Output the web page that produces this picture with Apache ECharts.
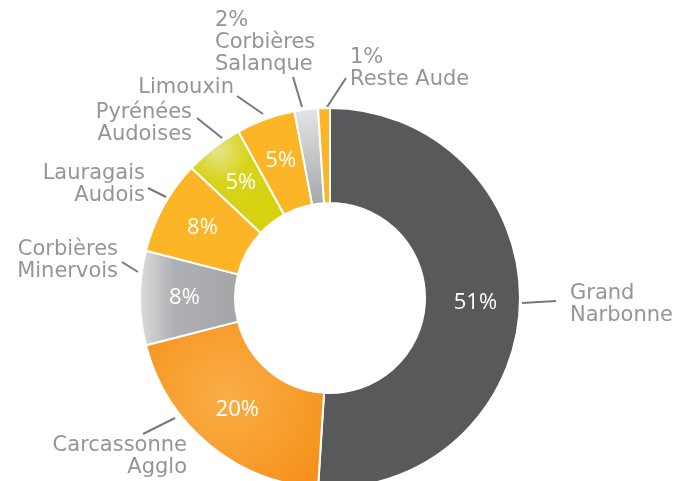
<!DOCTYPE html>
<html>
<head>
<meta charset="utf-8">
<script src="https://cdn.jsdelivr.net/npm/echarts@6/dist/echarts.min.js"></script>
<style>
  html, body { margin: 0; padding: 0; background: #fff; }
  #chart { width: 691px; height: 481px; }
</style>
</head>
<body>
<div id="chart"></div>
<script>
// data
const names = ['Grand\nNarbonne', 'Carcassonne\nAgglo', 'Corbières\nMinervois', 'Lauragais\nAudois',
  'Pyrénées\nAudoises', 'Limouxin', 'Corbières\nSalanque', 'Reste Aude'];
const shares = [51, 20, 8, 8, 5, 5, 2, 1];
// small slices show their share in the outside label instead of inside
const shareInside = [true, true, true, true, true, true, false, false];

// where each outside label sits (text anchor, alignment, its leader line)
const labelSpots = [
  { x: 570, y: 305, align: 'left',  from: [522, 303], to: [556, 301] },
  { x: 187, y: 457, align: 'right', from: [175, 418], to: [143, 434] },
  { x: 118, y: 261, align: 'right', from: [138, 272], to: [122, 262] },
  { x: 145, y: 185, align: 'right', from: [166, 197], to: [148, 188] },
  { x: 192, y: 124, align: 'right', from: [222, 138], to: [197, 118] },
  { x: 234, y: 88,  align: 'right', from: [263, 114], to: [237, 96] },
  { x: 215, y: 43,  align: 'left',  from: [302, 107], to: [293, 77] },
  { x: 350, y: 69,  align: 'left',  from: [327, 107], to: [346, 78] }
];

const orange = '#fbb526';
const colors = [
  '#58595b',
  { type: 'radial', x: 0.45, y: 0.45, r: 0.7, colorStops: [{ offset: 0, color: '#f9ae46' }, { offset: 1, color: '#f6911c' }] },
  { type: 'linear', x: 0, y: 0, x2: 1, y2: 0, colorStops: [{ offset: 0, color: '#dcdddf' }, { offset: 0.35, color: '#aeb0b3' }, { offset: 1, color: '#a3a5a8' }] },
  orange,
  { type: 'radial', x: 0.3, y: 0.2, r: 0.8, colorStops: [{ offset: 0, color: '#e8e48a' }, { offset: 0.4, color: '#d8d319' }, { offset: 1, color: '#d6d20f' }] },
  orange,
  { type: 'linear', x: 0, y: 0, x2: 0, y2: 1, colorStops: [{ offset: 0, color: '#e4e5e6' }, { offset: 1, color: '#a4a6a9' }] },
  orange
];

const chart = echarts.init(document.getElementById('chart'));

const option = {
  animation: false,
  series: [
    {
      type: 'pie',
      center: [330, 298],
      radius: [95, 190],
      startAngle: 90,
      clockwise: true,
      avoidLabelOverlap: false,
      itemStyle: { borderColor: '#fff', borderWidth: 2 },
      label: {
        position: 'inside',
        color: '#fff',
        fontFamily: 'Open Sans',
        fontSize: 22,
        formatter: p => shareInside[p.dataIndex] ? p.value + '%' : ''
      },
      labelLine: { show: false },
      data: names.map((n, i) => ({ name: n, value: shares[i], itemStyle: { color: colors[i] } }))
    },
    {
      // transparent twin ring that only carries the outside labels
      type: 'pie',
      center: [330, 298],
      radius: [95, 190],
      startAngle: 90,
      clockwise: true,
      silent: true,
      avoidLabelOverlap: false,
      itemStyle: { color: 'rgba(0,0,0,0)' },
      label: {
        position: 'outside',
        color: '#939598',
        fontFamily: 'DejaVu Sans',
        fontSize: 21,
        lineHeight: 22,
        formatter: p => shareInside[p.dataIndex] ? p.name : p.value + '%\n' + p.name
      },
      labelLine: {
        show: true,
        length: 14,
        length2: 8,
        lineStyle: { color: '#77787b', width: 2 }
      },
      labelLayout: function (params) {
        const s = labelSpots[params.dataIndex];
        return {
          x: s.x,
          y: s.y,
          align: s.align,
          verticalAlign: 'middle',
          labelLinePoints: [s.from, s.to, s.to]
        };
      },
      data: names.map((n, i) => ({ name: n, value: shares[i] }))
    }
  ]
};
chart.setOption(option);
</script>
</body>
</html>
